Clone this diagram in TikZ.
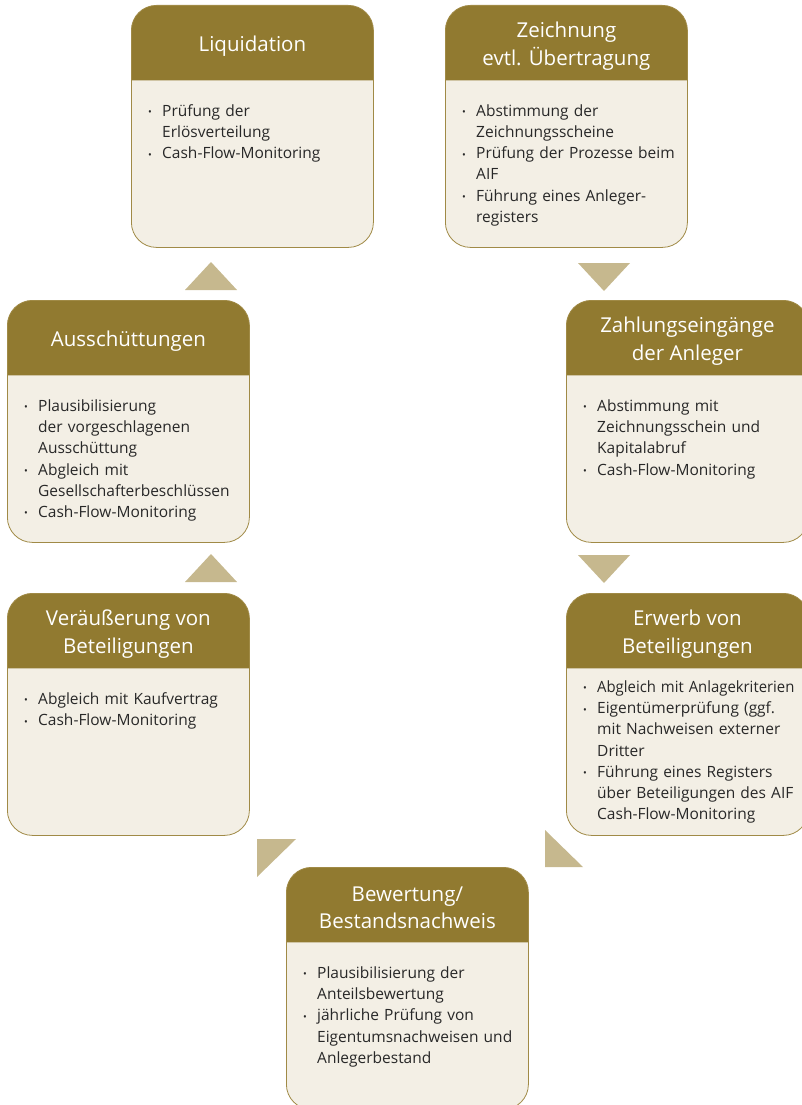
\documentclass[tikz,border=0pt]{standalone}
\usepackage{fontspec}
\usepackage{graphicx}
\setmainfont{Open Sans}
\usetikzlibrary{calc}
\definecolor{headgold}{RGB}{145,122,48}
\definecolor{bodycream}{RGB}{243,239,229}
\definecolor{trigold}{RGB}{198,184,142}
\definecolor{linegold}{RGB}{160,138,70}
\definecolor{listtext}{RGB}{40,40,40}
% bullet list inside the boxes
\newcommand\stagebullet{\raisebox{0.05ex}{\fontsize{10}{10}\selectfont\textbullet}}
\newenvironment{checks}{\begin{list}{\stagebullet}{%
  \setlength\leftmargin{14pt}\setlength\labelwidth{14pt}%
  \setlength\labelsep{0pt}\setlength\itemindent{0pt}%
  \setlength\itemsep{0pt}\setlength\parsep{0pt}%
  \setlength\topsep{0pt}\setlength\partopsep{0pt}%
  \def\makelabel##1{##1\hfil}}}{\end{list}}
\tikzset{
  stagebox/.style={draw=linegold, line width=0.8pt, fill=bodycream,
    rounded corners=25pt, minimum width=242pt, minimum height=242pt,
    anchor=north west, inner sep=0pt,
    path picture={\fill[headgold, sharp corners]
      ($(path picture bounding box.north west)+(0,75)$)
      [rounded corners=25pt] -- (path picture bounding box.north west)
      -- (path picture bounding box.north east) [sharp corners]
      -- ($(path picture bounding box.north east)+(0,75)$) -- cycle;}},
  stagetitle/.style={text=white, align=center, inner sep=0pt,
    font=\fontsize{20.5}{27.5}\selectfont},
  stagelist/.style={text=listtext, anchor=north west, inner sep=0pt,
    text width=222pt, font=\fontsize{15.5}{21.2}\selectfont},
  marker/.style={fill=trigold}
}
\begin{document}
\begin{tikzpicture}[x=1pt, y=-1pt]
\useasboundingbox (0,0) rectangle (802,1105);
% boxes
\node[stagebox] (liquidation)   at (131,5)   {};
\node[stagebox] (zeichnung)     at (445,5)   {};
\node[stagebox] (zahlung)       at (566,300) {};
\node[stagebox] (erwerb)        at (566,593) {};
\node[stagebox] (bewertung)     at (286,867) {};
\node[stagebox] (veraeusserung) at (7,593)   {};
\node[stagebox] (ausschuettung) at (7,300)   {};
% titles
\node[stagetitle] (liquidation-t)   at ($(liquidation.north)+(0,41.5)$)   {Liquidation};
\node[stagetitle] (zeichnung-t)     at ($(zeichnung.north)+(0,41)$)       {Zeichnung\\evtl. Übertragung};
\node[stagetitle] (zahlung-t)       at ($(zahlung.north)+(0,41)$)         {Zahlungseingänge\\der Anleger};
\node[stagetitle] (erwerb-t)        at ($(erwerb.north)+(0,41)$)          {Erwerb von\\Beteiligungen};
\node[stagetitle] (bewertung-t)     at ($(bewertung.north)+(0,41)$)       {Bewertung/\\Bestandsnachweis};
\node[stagetitle] (veraeusserung-t) at ($(veraeusserung.north)+(0,41)$)   {Veräußerung von\\Beteiligungen};
\node[stagetitle] (ausschuettung-t) at ($(ausschuettung.north)+(0,41.5)$) {Ausschüttungen};
% lists
\node[stagelist] (liquidation-l) at ($(liquidation.north west)+(17,90)$) {%
  \begin{checks}
  \item Prüfung der\newline Erlösverteilung
  \item Cash-Flow-Monitoring
  \end{checks}};
\node[stagelist] (zeichnung-l) at ($(zeichnung.north west)+(17,90)$) {%
  \begin{checks}
  \item Abstimmung der\newline Zeichnungsscheine
  \item Prüfung der Prozesse beim\newline AIF
  \item Führung eines Anleger-\newline registers
  \end{checks}};
\node[stagelist] (zahlung-l) at ($(zahlung.north west)+(17,90)$) {%
  \begin{checks}
  \item Abstimmung mit\newline Zeichnungsschein und\newline Kapitalabruf
  \item Cash-Flow-Monitoring
  \end{checks}};
\node[stagelist] (erwerb-l) at ($(erwerb.north west)+(17,78)$) {%
  \begin{checks}
  \item \scalebox{0.96}[1]{Abgleich mit Anlagekriterien}
  \item Eigentümerprüfung (ggf.\newline mit Nachweisen externer\newline Dritter
  \item Führung eines Registers\newline über Beteiligungen des AIF\newline Cash-Flow-Monitoring
  \end{checks}};
\node[stagelist] (bewertung-l) at ($(bewertung.north west)+(17,90)$) {%
  \begin{checks}
  \item Plausibilisierung der\newline Anteilsbewertung
  \item jährliche Prüfung von\newline Eigentumsnachweisen und\newline Anlegerbestand
  \end{checks}};
\node[stagelist] (veraeusserung-l) at ($(veraeusserung.north west)+(17,90)$) {%
  \begin{checks}
  \item Abgleich mit Kaufvertrag
  \item Cash-Flow-Monitoring
  \end{checks}};
\node[stagelist] (ausschuettung-l) at ($(ausschuettung.north west)+(17,90)$) {%
  \begin{checks}
  \item Plausibilisierung\newline der vorgeschlagenen\newline Ausschüttung
  \item Abgleich mit\newline Gesellschafterbeschlüssen
  \item Cash-Flow-Monitoring
  \end{checks}};
% markers between the stages
\fill[marker] (578,263) -- (630,263) -- (604,291) -- cycle;
\fill[marker] (578,555) -- (630,555) -- (604,583) -- cycle;
\fill[marker] (545,830) -- (545,867) -- (583,867) -- cycle;
\fill[marker] (257,839) -- (296,839) -- (257,877) -- cycle;
\fill[marker] (185,582) -- (237,582) -- (211,554) -- cycle;
\fill[marker] (185,290) -- (237,290) -- (211,262) -- cycle;
\end{tikzpicture}
\end{document}
